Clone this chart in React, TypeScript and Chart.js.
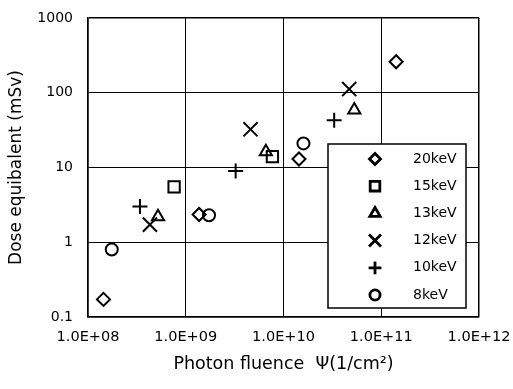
import React, { useEffect, useRef } from 'react';
import { Chart, registerables } from 'chart.js';
import { drawPoint } from 'chart.js/helpers';

Chart.register(...registerables);

const seriesLabels = ['20keV', '15keV', '13keV', '12keV', '10keV', '8keV'];
const seriesStyles = ['rectRot', 'rect', 'triangle', 'crossRot', 'cross', 'circle'];
const seriesRadius = [6.5, 8, 7, 10, 7.5, 6];

const fluence20 = [1.44e8, 1.37e9, 1.44e10, 1.42e11];
const dose20 = [0.172, 2.35, 13, 260];
const fluence15 = [7.6e8, 7.7e9];
const dose15 = [5.5, 14];
const fluence13 = [5.2e8, 6.6e9, 5.3e10];
const dose13 = [2.2, 16.2, 59];
const fluence12 = [4.3e8, 4.6e9, 4.7e10];
const dose12 = [1.72, 32.4, 112];
const fluence10 = [3.4e8, 3.24e9, 3.3e10];
const dose10 = [3.0, 9.0, 43];
const fluence8 = [1.75e8, 1.73e9, 1.6e10];
const dose8 = [0.8, 2.3, 21];

const xTickValues = [1e8, 1e9, 1e10, 1e11, 1e12];
const xTickLabels = ['1.0E+08', '1.0E+09', '1.0E+10', '1.0E+11', '1.0E+12'];
const yTickValues = [0.1, 1, 10, 100, 1000];
const yTickLabels = ['0.1', '1', '10', '100', '1000'];

const xTitle = 'Photon fluence  \u03A8(1/cm\u00B2)';
const yTitle = 'Dose equibalent (mSv)';

const FONT = 'DejaVu Sans';

const seriesX = [fluence20, fluence15, fluence13, fluence12, fluence10, fluence8];
const seriesY = [dose20, dose15, dose13, dose12, dose10, dose8];

const legendPlugin = {
  id: 'boxLegend',
  afterDraw(chart: any) {
    const ctx = chart.ctx;
    const area = chart.chartArea;
    const left = area.right - 151;
    const top = area.top + 126;
    const w = 138;
    const h = 164;
    ctx.save();
    ctx.fillStyle = '#fff';
    ctx.fillRect(left, top, w, h);
    ctx.strokeStyle = '#000';
    ctx.lineWidth = 1.5;
    ctx.strokeRect(left, top, w, h);
    chart.data.datasets.forEach((ds: any, i: number) => {
      const y = top + 15 + i * 27.2;
      ctx.strokeStyle = '#000';
      ctx.fillStyle = 'rgba(0,0,0,0)';
      ctx.lineWidth = 2.8;
      drawPoint(ctx, { pointStyle: ds.pointStyle, radius: ds.pointRadius * 0.85, rotation: 0, borderWidth: 2.8 } as any, left + 47, y);
      ctx.fillStyle = '#000';
      ctx.font = `14px "${FONT}"`;
      ctx.textAlign = 'left';
      ctx.textBaseline = 'middle';
      ctx.fillText(ds.label, left + 85, y);
    });
    ctx.restore();
  },
};

export default function App() {
  const ref = useRef<HTMLCanvasElement>(null);
  useEffect(() => {
    if (!ref.current) return;
    const datasets = seriesLabels.map((label, i) => ({
      label,
      data: seriesX[i].map((x, j) => ({ x, y: seriesY[i][j] })),
      pointStyle: seriesStyles[i],
      pointRadius: seriesRadius[i],
      pointBorderWidth: 2,
      borderColor: '#000',
      backgroundColor: 'rgba(0,0,0,0)',
      showLine: false,
    }));
    const edgeWidth = (c: any, n: number) => (c.index === 0 || c.index === n - 1 ? 1.5 : 1);
    const chart = new Chart(ref.current, {
      type: 'scatter',
      data: { datasets } as any,
      options: {
        animation: false,
        responsive: false,
        layout: { padding: { left: 0, top: 18, right: 34, bottom: 0 } },
        plugins: { legend: { display: false }, tooltip: { enabled: false } },
        scales: {
          x: {
            type: 'logarithmic',
            min: 1e8,
            max: 1e12,
            afterBuildTicks: (s: any) => {
              s.ticks = xTickValues.map((v) => ({ value: v }));
            },
            afterFit: (s: any) => {
              s.height = 72;
              s.paddingLeft = 0;
              s.paddingRight = 0;
            },
            ticks: {
              callback: (_v: any, i: number) => xTickLabels[i],
              color: '#000',
              font: { family: FONT, size: 14.5 },
              padding: 12,
              autoSkip: false,
              maxRotation: 0,
            },
            grid: { color: '#000', lineWidth: (c: any) => edgeWidth(c, xTickValues.length), drawTicks: false },
            border: { display: true, color: '#000', width: 1.5 },
            title: {
              display: true,
              text: xTitle,
              color: '#000',
              font: { family: FONT, size: 17.5 },
              padding: { top: 0, bottom: 14 },
            },
          },
          y: {
            type: 'logarithmic',
            min: 0.1,
            max: 1000,
            afterBuildTicks: (s: any) => {
              s.ticks = yTickValues.map((v) => ({ value: v }));
            },
            afterFit: (s: any) => {
              s.width = 88;
              s.paddingTop = 0;
              s.paddingBottom = 0;
            },
            ticks: {
              callback: (_v: any, i: number) => yTickLabels[i],
              color: '#000',
              font: { family: FONT, size: 14 },
              padding: 15,
              autoSkip: false,
            },
            grid: { color: '#000', lineWidth: (c: any) => edgeWidth(c, yTickValues.length), drawTicks: false },
            border: { display: true, color: '#000', width: 1.5 },
            title: {
              display: true,
              text: yTitle,
              color: '#000',
              font: { family: FONT, size: 17 },
              padding: { top: 6, bottom: 0 },
            },
          },
        },
      } as any,
      plugins: [legendPlugin],
    });
    return () => chart.destroy();
  }, []);
  return (
    <div style={{ position: 'absolute', left: 0, top: 0, width: 513, height: 389, background: '#fff' }}>
      <canvas ref={ref} width={513} height={389} />
    </div>
  );
}
